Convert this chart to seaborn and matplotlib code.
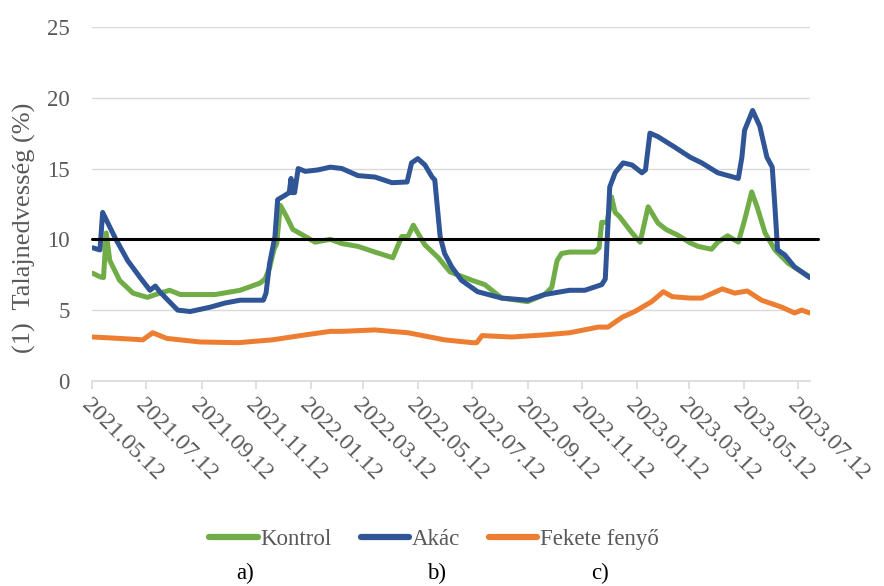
# Talajnedvesség idősor – Kontrol / Akác / Fekete fenyő
import pandas as pd
import matplotlib
matplotlib.use("Agg")
import matplotlib.pyplot as plt
import matplotlib.dates as mdates
import seaborn as sns

# Mérési adatok (nap a 2021.05.12-i kezdettől, talajnedvesség %)
start = pd.Timestamp("2021-05-12")

kontrol_nap = [1, 9, 13, 16, 20, 31, 46, 62, 76, 87, 99, 138, 166, 188, 194, 199, 204, 207, 211,
               218, 225, 239, 250, 267, 280, 298, 317, 337, 347, 354, 360, 365, 373, 388, 401,
               426, 440, 459, 488, 507, 515, 521, 526, 535, 563, 568, 571, 577, 582, 586, 591,
               605, 614, 623, 634, 643, 656, 670, 679, 694, 701, 712, 724, 731, 739, 745, 754,
               765, 780, 795, 804]
kontrol = [7.6, 7.35, 7.3, 10.45, 8.5, 7.1, 6.2, 5.9, 6.2, 6.4, 6.1, 6.1, 6.4, 6.9, 7.2, 8.0, 9.3,
           9.7, 12.4, 11.6, 10.7, 10.2, 9.8, 10.0, 9.7, 9.5, 9.1, 8.7, 10.2, 10.2, 11.0, 10.45,
           9.6, 8.7, 7.7, 7.1, 6.8, 5.85, 5.6, 6.1, 6.6, 8.5, 9.0, 9.1, 9.1, 9.4, 11.2, 11.2,
           13.0, 11.9, 11.6, 10.45, 9.8, 12.3, 11.15, 10.7, 10.3, 9.75, 9.5, 9.3, 9.8, 10.25,
           9.8, 11.35, 13.35, 12.3, 10.45, 9.25, 8.3, 7.7, 7.35]

akac_nap = [1, 9, 12, 26, 40, 54, 65, 71, 76, 82, 96, 110, 132, 149, 166, 192, 195, 199, 205, 208,
            216, 221, 223, 224, 227, 231, 239, 253, 267, 280, 298, 317, 336, 353, 358, 365, 373,
            381, 384, 390, 395, 403, 414, 432, 459, 488, 507, 535, 552, 571, 575, 580, 586, 595,
            605, 616, 620, 625, 634, 653, 670, 683, 701, 724, 728, 731, 740, 748, 756, 762, 765,
            768, 776, 787, 804]
akac = [9.4, 9.25, 11.9, 10.1, 8.5, 7.3, 6.4, 6.7, 6.3, 5.9, 5.0, 4.9, 5.2, 5.5, 5.7, 5.7, 6.2, 8.3,
        10.2, 12.8, 13.1, 13.3, 14.3, 13.3, 13.3, 15.0, 14.8, 14.9, 15.1, 15.0, 14.5, 14.4, 14.0,
        14.05, 15.4, 15.7, 15.25, 14.4, 14.2, 10.2, 9.0, 8.05, 7.1, 6.3, 5.85, 5.7, 6.1, 6.4, 6.4,
        6.8, 7.2, 13.7, 14.7, 15.4, 15.25, 14.7, 14.9, 17.5, 17.25, 16.5, 15.8, 15.4, 14.7, 14.3,
        15.8, 17.7, 19.1, 18.0, 15.8, 15.1, 12.3, 9.25, 8.9, 8.05, 7.3]

fenyo_nap = [1, 31, 57, 68, 84, 121, 164, 202, 239, 267, 280, 317, 354, 395, 426, 431, 437, 470,
             507, 535, 567, 578, 594, 608, 627, 640, 650, 670, 683, 706, 720, 734, 750, 773, 787,
             795, 804]
fenyo = [3.1, 3.0, 2.9, 3.4, 3.0, 2.75, 2.7, 2.9, 3.25, 3.5, 3.5, 3.6, 3.4, 2.9, 2.7, 2.7, 3.2,
         3.1, 3.25, 3.4, 3.8, 3.8, 4.5, 4.9, 5.6, 6.3, 5.95, 5.85, 5.85, 6.5, 6.2, 6.35, 5.7, 5.2,
         4.8, 5.0, 4.8]

kuszob = 10
sorozat_nevek = ["Kontrol", "Akác", "Fekete fenyő"]
szinek = ["#70AD47", "#2F5597", "#ED7D31"]

# Hosszú formátumú tábla a seabornhoz
df = pd.concat([
    pd.DataFrame({"nap": kontrol_nap, "ertek": kontrol, "sorozat": "Kontrol"}),
    pd.DataFrame({"nap": akac_nap, "ertek": akac, "sorozat": "Akác"}),
    pd.DataFrame({"nap": fenyo_nap, "ertek": fenyo, "sorozat": "Fekete fenyő"}),
])
df["datum"] = start + pd.to_timedelta(df["nap"], unit="D")

sns.set_theme(style="whitegrid")
plt.rcParams["font.family"] = ["Liberation Serif", "DejaVu Serif"]
szurke = "#595959"

fig = plt.figure(figsize=(8.84, 5.86), dpi=100)
ax = fig.add_axes([0.104, 0.350, 0.812, 0.604])

sns.lineplot(data=df, x="datum", y="ertek", hue="sorozat", hue_order=sorozat_nevek,
             palette=szinek, linewidth=3.6, ax=ax, legend=False, estimator=None, sort=True)
# 10%-os küszöbvonal, kicsit túlnyúlik a tengelyen
ax.plot([start, pd.Timestamp("2023-08-03")], [kuszob, kuszob], color="black",
        linewidth=2.2, zorder=5, clip_on=False)

ax.set_ylim(0, 25)
ax.set_yticks([0, 5, 10, 15, 20, 25])
ax.set_xlim(start, pd.Timestamp("2023-07-25"))
ax.xaxis.set_major_locator(mdates.MonthLocator(bymonth=[1, 3, 5, 7, 9, 11], bymonthday=12))
ax.xaxis.set_major_formatter(mdates.DateFormatter("%Y.%m.%d"))

ax.grid(axis="x", visible=False)
ax.grid(axis="y", color="#D9D9D9", linewidth=1.0)
for s in ["left", "right", "top"]:
    ax.spines[s].set_visible(False)
ax.spines["bottom"].set_color("#D9D9D9")
ax.spines["bottom"].set_linewidth(1.2)
ax.set_facecolor("white")

ax.tick_params(axis="y", labelsize=16.5, labelcolor=szurke, length=0, pad=16)
ax.tick_params(axis="x", labelsize=17, labelcolor=szurke, bottom=True, length=6,
               color="#D9D9D9", width=1.2, pad=4)
for lbl in ax.get_xticklabels():
    lbl.set_rotation(-45)
    lbl.set_ha("left")
    lbl.set_va("top")
    lbl.set_rotation_mode("anchor")

ax.set_xlabel("")
ax.set_ylabel("")
fig.text(0.028, 0.611, "(1)  Talajnedvesség (%)", rotation=90, ha="center", va="center",
         fontsize=19, color=szurke)

# Jelmagyarázat
kezelok = [plt.Line2D([], [], color=c, linewidth=4.5) for c in szinek]
fig.legend(kezelok, sorozat_nevek, loc="center", bbox_to_anchor=(0.491, 0.080), ncol=3,
           frameon=False, fontsize=16.5, handlelength=2.1, handletextpad=0.1,
           columnspacing=1.3, labelcolor=szurke)

for x, t in zip([0.277, 0.494, 0.679], ["a)", "b)", "c)"]):
    fig.text(x, 0.022, t, ha="center", va="center", fontsize=16.5, color="black")

fig.savefig("out.png", dpi=100, facecolor="white")
